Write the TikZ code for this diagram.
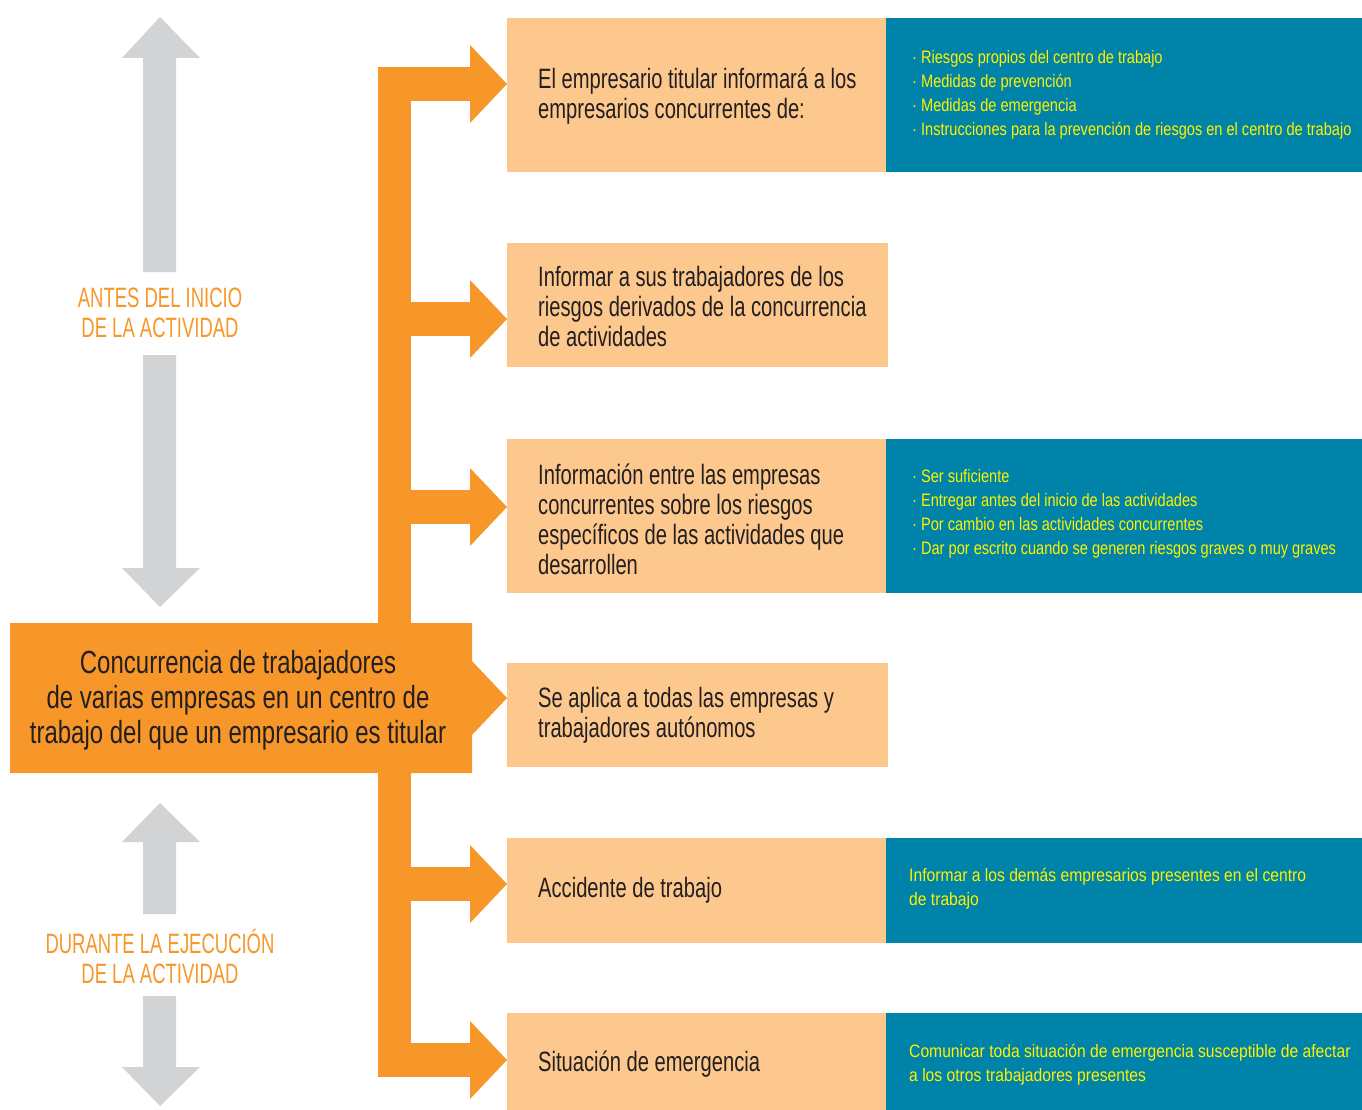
\documentclass[tikz,border=0pt]{standalone}
\usepackage{fontspec}
\setmainfont{Liberation Sans}
\newfontfamily\condP[FakeStretch=0.72]{Liberation Sans}
\newfontfamily\condM[FakeStretch=0.75]{Liberation Sans}
\newfontfamily\condB[FakeStretch=0.81]{Liberation Sans}
\newfontfamily\condBB[FakeStretch=0.87]{Liberation Sans}
\newfontfamily\condL[FakeStretch=0.66]{Liberation Sans}
\definecolor{orng}{HTML}{F7972A}
\definecolor{peach}{HTML}{FDC88D}
\definecolor{tealb}{HTML}{0083A8}
\definecolor{ylw}{HTML}{FFF200}
\definecolor{grayA}{HTML}{D1D3D4}
\definecolor{txt}{HTML}{231F20}
\tikzset{
  pbox/.style={fill=peach, draw=none, inner sep=0pt, anchor=north west, rectangle},
  bbox/.style={fill=tealb, draw=none, inner sep=0pt, anchor=north west, rectangle},
  ptext/.style={anchor=west, inner sep=0pt, align=left, text=txt, font=\condP\fontsize{28}{30}\selectfont},
  btext/.style={anchor=west, inner sep=0pt, align=left, text=ylw, font=\condB\fontsize{18}{24}\selectfont},
  bwtext/.style={btext, font=\condBB\fontsize{18}{24}\selectfont},
  ltext/.style={inner sep=0pt, align=center, text=orng, font=\condL\fontsize{28}{30}\selectfont},
  mtext/.style={inner sep=0pt, align=center, text=txt, font=\condM\fontsize{32}{35}\selectfont},
}
\begin{document}
\begin{tikzpicture}[x=1pt,y=-1pt]
\useasboundingbox (0,0) rectangle (1362,1110);
% gray arrows
\fill[grayA] (160,17) -- (200,58) -- (176,58) -- (176,272) -- (143,272) -- (143,58) -- (122,58) -- cycle;
\fill[grayA] (143,355) -- (176,355) -- (176,568) -- (200,568) -- (160,607) -- (122,568) -- (143,568) -- cycle;
\fill[grayA] (160,803) -- (200,842) -- (176,842) -- (176,914) -- (143,914) -- (143,842) -- (122,842) -- cycle;
\fill[grayA] (143,996) -- (176,996) -- (176,1067) -- (200,1067) -- (160,1106) -- (122,1067) -- (143,1067) -- cycle;
\node[ltext] (lab1) at (160,313) {ANTES DEL INICIO\\DE LA ACTIVIDAD};
\node[ltext] (lab2) at (160,956) {DURANTE LA EJECUCIÓN\\DE LA ACTIVIDAD};
% boxes
\node[pbox, minimum width=379, minimum height=154] (p1) at (507,18) {};
\node[bbox, minimum width=476, minimum height=154] (b1) at (886,18) {};
\node[pbox, minimum width=381, minimum height=124] (p2) at (507,243) {};
\node[pbox, minimum width=379, minimum height=154] (p3) at (507,439) {};
\node[bbox, minimum width=476, minimum height=154] (b3) at (886,439) {};
\node[pbox, minimum width=381, minimum height=104] (p4) at (507,663) {};
\node[pbox, minimum width=379, minimum height=105] (p5) at (507,838) {};
\node[bbox, minimum width=476, minimum height=105] (b5) at (886,838) {};
\node[pbox, minimum width=379, minimum height=97] (p6) at (507,1013) {};
\node[bbox, minimum width=476, minimum height=97] (b6) at (886,1013) {};
% orange bar and arrows
\fill[orng] (378,67) rectangle (411,1077);
\foreach \c/\n in {84/p1,319/p2,507/p3,884/p5,1060/p6}{
  \fill[orng] (378,\c-17) rectangle (471,\c+17);
  \fill[orng] (470,\c-39) -- (507,\c) -- (470,\c+39) -- cycle;
}
% central box
\fill[orng] (10,623) -- (472,623) -- (472,661) -- (p4.west |- 0,698) -- (472,735) -- (472,773) -- (10,773) -- cycle;
\node[mtext] (central) at (238,700) {Concurrencia de trabajadores\\de varias empresas en un centro de\\trabajo del que un empresario es titular};
% texts
\node[ptext] (t1) at (538,96) {El empresario titular informará a los\\empresarios concurrentes de:};
\node[ptext] (t2) at (538,306) {Informar a sus trabajadores de los\\riesgos derivados de la concurrencia\\de actividades};
\node[ptext] (t3) at (538,519) {Información entre las empresas\\concurrentes sobre los riesgos\\específicos de las actividades que\\desarrollen};
\node[ptext] (t4) at (538,715) {Se aplica a todas las empresas y\\trabajadores autónomos};
\node[ptext] (t5) at (538,890) {Accidente de trabajo};
\node[ptext] (t6) at (538,1064) {Situación de emergencia};
\node[btext] (u1) at (912,95) {· Riesgos propios del centro de trabajo\\· Medidas de prevención\\· Medidas de emergencia\\· Instrucciones para la prevención de riesgos en el centro de trabajo};
\node[btext] (u3) at (912,514) {· Ser suficiente\\· Entregar antes del inicio de las actividades\\· Por cambio en las actividades concurrentes\\· Dar por escrito cuando se generen riesgos graves o muy graves};
\node[bwtext] (u5) at (909,889) {Informar a los demás empresarios presentes en el centro\\de trabajo};
\node[bwtext] (u6) at (909,1065) {Comunicar toda situación de emergencia susceptible de afectar\\a los otros trabajadores presentes};
\end{tikzpicture}
\end{document}
